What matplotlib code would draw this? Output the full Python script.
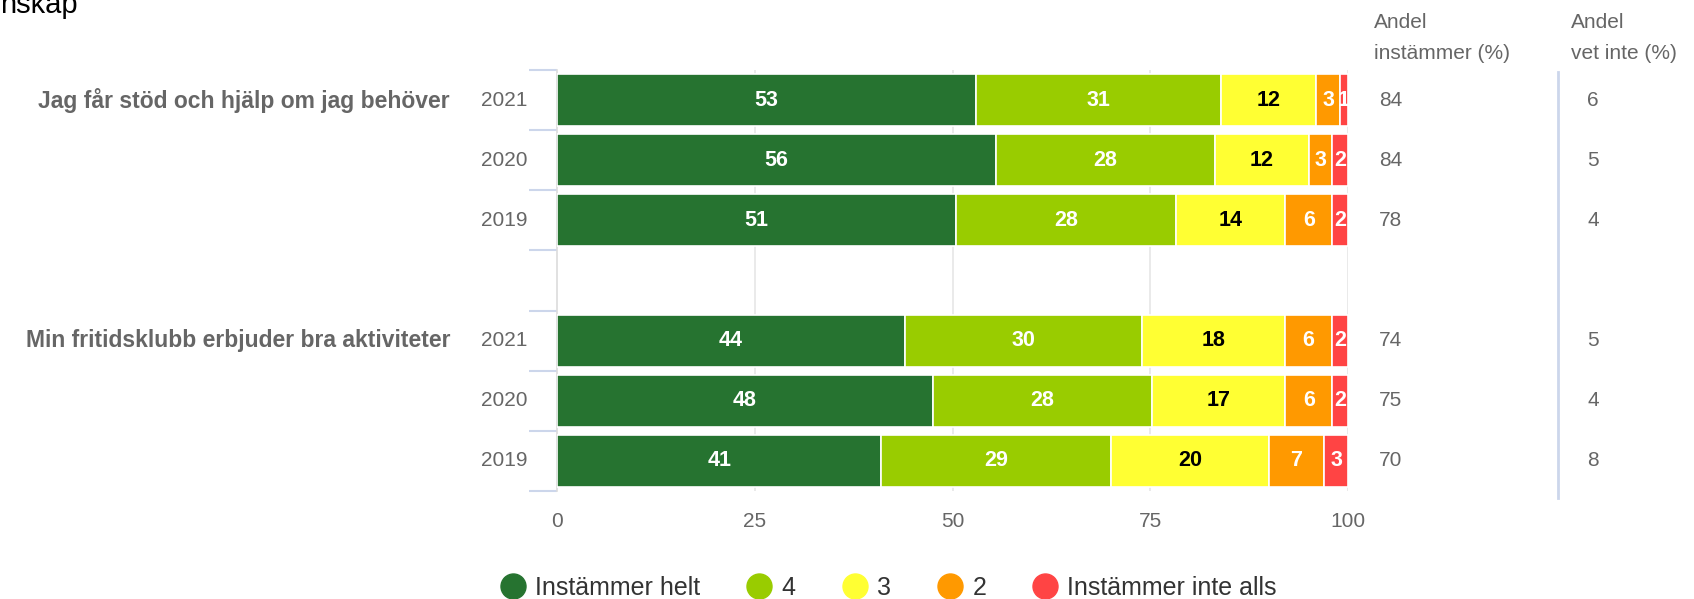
import matplotlib
matplotlib.use("Agg")
import matplotlib.pyplot as plt
from matplotlib.lines import Line2D
import numpy as np

plt.rcParams['font.family'] = ['Liberation Sans', 'DejaVu Sans']

# ---- data ----
questions = ["Jag får stöd och hjälp om jag behöver",
             "Min fritidsklubb erbjuder bra aktiviteter"]
years = ["2021", "2020", "2019"]
series_names = ["Instämmer helt", "4", "3", "2", "Instämmer inte alls"]
series_colors = ["#267330", "#99cc00", "#ffff33", "#ff9900", "#ff4444"]
label_colors = ["white", "white", "black", "white", "white"]

# rows: q1 2021, 2020, 2019, (blank), q2 2021, 2020, 2019
helt = [53, 56, 51, None, 44, 48, 41]
s4 = [31, 28, 28, None, 30, 28, 29]
s3 = [12, 12, 14, None, 18, 17, 20]
s2 = [3, 3, 6, None, 6, 6, 7]
inte = [1, 2, 2, None, 2, 2, 3]
andel_instammer = [84, 84, 78, None, 74, 75, 70]
andel_vet_inte = [6, 5, 4, None, 5, 4, 8]
x_ticks = [0, 25, 50, 75, 100]
title_fragment = "nskap"

W, H = 1694, 599
fig = plt.figure(figsize=(W / 100, H / 100), dpi=100)

def fx(px):
    return px / W

def fy(py):
    return 1 - py / H

ax_left, ax_right, ax_top, ax_bot = 557, 1348, 70, 491
ax = fig.add_axes([fx(ax_left), fy(ax_bot), fx(ax_right - ax_left), (ax_bot - ax_top) / H])

series = [helt, s4, s3, s2, inte]
nrows = len(helt)
ax.set_xlim(0, 100)
ax.set_ylim(nrows - 0.5, -0.5)

for r in range(nrows):
    if helt[r] is None:
        continue
    vals = np.array([s[r] for s in series], dtype=float)
    widths = vals / vals.sum() * 100
    left = 0.0
    for k in range(len(series)):
        ax.barh(r, widths[k], left=left, height=0.86, color=series_colors[k],
                edgecolor="white", linewidth=1.2, zorder=3)
        ax.text(left + widths[k] / 2, r, str(int(vals[k])), ha="center", va="center",
                fontsize=15.5, fontweight="bold", color=label_colors[k], zorder=4)
        left += widths[k]

# grid
for t in x_ticks[1:]:
    ax.axvline(t, color="#e6e6e6", lw=1.2, zorder=1)
for sp in ["top", "right", "bottom"]:
    ax.spines[sp].set_visible(False)
ax.spines["left"].set_color("#dcdcdc")
ax.spines["left"].set_linewidth(1.2)
ax.set_xticks(x_ticks)
ax.set_xticklabels([str(t) for t in x_ticks])
ax.tick_params(axis="x", length=0, labelsize=15, labelcolor="#666666", pad=15)
ax.set_yticks(np.arange(nrows + 1) - 0.5, minor=False)
ax.set_yticklabels([])
ax.tick_params(axis="y", length=20, width=1.5, color="#ccd6eb")

# year labels and question labels
for r in range(nrows):
    if helt[r] is None:
        continue
    ax.annotate(years[r % 4], xy=(0, r), xycoords=("axes fraction", "data"),
                xytext=(-30, 0), textcoords="offset pixels",
                ha="right", va="center", fontsize=15, color="#666666")
q_rows = [0, 4]
for q, r in zip(questions, q_rows):
    ax.annotate(q, xy=(0, r), xycoords=("axes fraction", "data"),
                xytext=(-107, 0), textcoords="offset pixels",
                ha="right", va="center", fontsize=16.5, fontweight="bold", color="#666666")

# right columns
for r in range(nrows):
    if andel_instammer[r] is None:
        continue
    ax.annotate(str(andel_instammer[r]), xy=(1, r), xycoords=("axes fraction", "data"),
                xytext=(31, 0), textcoords="offset pixels",
                ha="left", va="center", fontsize=15, color="#666666")
    ax.annotate(str(andel_vet_inte[r]), xy=(1, r), xycoords=("axes fraction", "data"),
                xytext=(239, 0), textcoords="offset pixels",
                ha="left", va="center", fontsize=15, color="#666666")

fig.text(fx(1374), fy(38), "Andel\ninstämmer (%)", ha="left", va="center",
         fontsize=15, color="#666666", linespacing=1.75)
fig.text(fx(1571), fy(38), "Andel\nvet inte (%)", ha="left", va="center",
         fontsize=15, color="#666666", linespacing=1.75)
fig.add_artist(Line2D([fx(1558), fx(1558)], [fy(72), fy(498)], color="#ccd6eb", lw=2))

# title fragment (cut off at the top, as in the reference)
fig.text(0, fy(13), title_fragment, ha="left", va="baseline", fontsize=21, color="black")

# legend
handles = [Line2D([], [], marker="o", linestyle="none", markersize=18,
                  markerfacecolor=c, markeredgecolor=c) for c in series_colors]
fig.legend(handles, series_names, loc="center", bbox_to_anchor=(fx(888), fy(588)),
           ncol=5, frameon=False, fontsize=18, handletextpad=0.35,
           columnspacing=1.8, labelcolor="#333333", handlelength=1.1)

fig.savefig("out.png", dpi=100)
